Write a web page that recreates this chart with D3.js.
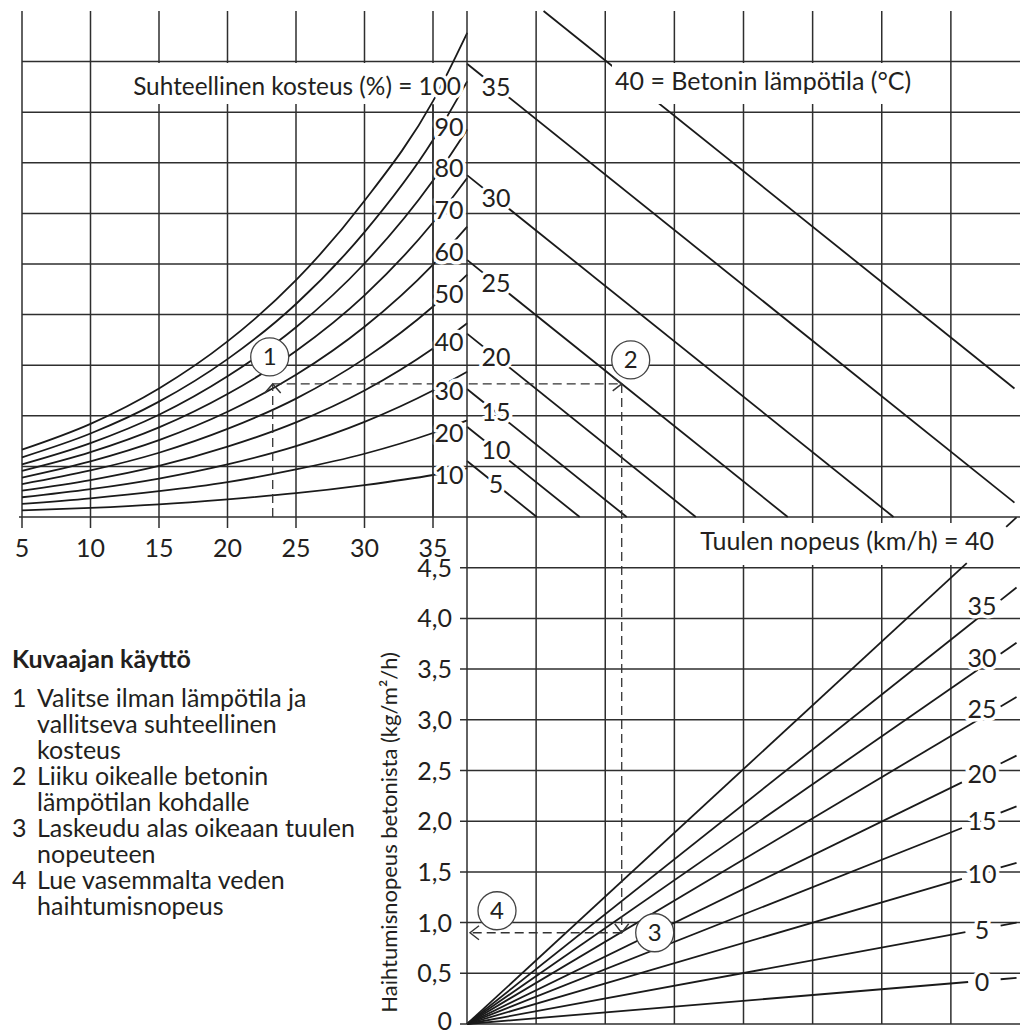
<!DOCTYPE html>
<html>
<head>
<meta charset="utf-8">
<script src="https://cdn.jsdelivr.net/npm/d3@7"></script>
<style>
  body { margin: 0; background: #fff; }
  svg { display: block; }
  text { font-family: Lato, "Open Sans", sans-serif; fill: #231f20; }
</style>
</head>
<body>
<div id="chart"></div>
<script>
// air temperature axis (°C)
const airTemps = [5, 10, 15, 20, 25, 30, 35];
// humidity curves, read at these air temperatures (grid units of the upper chart)
const curveTemps = [5, 10, 15, 20, 25, 30, 35, 37.5];
const humidities = [100, 90, 80, 70, 60, 50, 40, 30, 20, 10];
const rh100 = [1.33, 1.84, 2.54, 3.47, 4.68, 6.25, 8.22, 9.57];
const rh90 = [1.18, 1.65, 2.28, 3.12, 4.21, 5.63, 7.45, 8.61];
const rh80 = [1.04, 1.46, 2.02, 2.78, 3.75, 5.01, 6.65, 7.66];
const rh70 = [0.91, 1.28, 1.77, 2.43, 3.28, 4.38, 5.82, 6.70];
const rh60 = [0.78, 1.10, 1.52, 2.08, 2.81, 3.76, 4.99, 5.74];
const rh50 = [0.65, 0.92, 1.27, 1.74, 2.34, 3.13, 4.16, 4.79];
const rh40 = [0.52, 0.73, 1.01, 1.39, 1.87, 2.50, 3.33, 3.83];
const rh30 = [0.39, 0.55, 0.76, 1.04, 1.40, 1.88, 2.50, 2.87];
const rh20 = [0.26, 0.37, 0.51, 0.69, 0.94, 1.25, 1.66, 1.91];
const rh10 = [0.13, 0.18, 0.25, 0.35, 0.47, 0.63, 0.83, 0.96];
const humidityCurves = [rh100, rh90, rh80, rh70, rh60, rh50, rh40, rh30, rh20, rh10];

// concrete temperature lines: where each meets the bottom of the upper chart
const concreteTemps = [5, 10, 15, 20, 25, 30, 35, 40];
const concreteZero = [1.01, 1.63, 2.31, 3.31, 4.64, 6.17, 8.18, 10.24];
const concreteSlope = 1.095;

// wind speed lines (km/h): evaporation at x = 7 and where the line stops
const windSpeeds = [0, 5, 10, 15, 20, 25, 30, 35, 40];
const windRateAt7 = [0.40, 0.88, 1.40, 1.89, 2.33, 2.84, 3.31, 3.79, 4.40];
const windEnd = [7.25, 7.21, 7.16, 7.16, 7.16, 7.39, 7.39, 7.39, 7.23];

// evaporation axis (kg/m²/h)
const rateTicks = [0, 0.5, 1, 1.5, 2, 2.5, 3, 3.5, 4, 4.5];

// worked example drawn with dashed arrows
const exampleAir = 23.3;
const exampleVapor = 2.63;
const exampleConcrete = 25;
const exampleRate = 0.9;

const steps = [
    ['1', 'Valitse ilman lämpötila ja', 'vallitseva suhteellinen', 'kosteus'],
    ['2', 'Liiku oikealle betonin', 'lämpötilan kohdalle'],
    ['3', 'Laskeudu alas oikeaan tuulen', 'nopeuteen'],
    ['4', 'Lue vasemmalta veden', 'haihtumisnopeus']
];

const W = 1023, H = 1030;
const FS = 25;
const svg = d3.select('#chart').append('svg').attr('width', W).attr('height', H);

const xT = d3.scaleLinear().domain([5, 35]).range([22, 433]);
const xR = d3.scaleLinear().domain([0, 8]).range([467, 1020]);
const yTop = d3.scaleLinear().domain([0, 10]).range([517, 11]);
const yBot = d3.scaleLinear().domain([0, 5]).range([1024, 517]);

const gGrid = svg.append('g').attr('stroke', '#2e2e2e').attr('stroke-width', 1.5);
const gBehind = svg.append('g').attr('fill', 'none').attr('stroke', '#1a1a1a').attr('stroke-width', 1.8);
const gRects = svg.append('g');
const gLines = svg.append('g').attr('fill', 'none').attr('stroke', '#1a1a1a').attr('stroke-width', 1.8);
const gRoute = svg.append('g');
const gText = svg.append('g');
const gFront = svg.append('g').attr('stroke', '#2e2e2e').attr('stroke-width', 1.5);

function halo(t) {
    return t.attr('stroke', '#fff').attr('stroke-width', 7)
        .attr('stroke-linejoin', 'round').attr('paint-order', 'stroke');
}

// ---- grid
airTemps.forEach(t => {
    gGrid.append('line').attr('x1', xT(t)).attr('x2', xT(t))
        .attr('y1', yTop(10)).attr('y2', yTop(0) + 11);
});
d3.range(1, 8).forEach(u => {
    gGrid.append('line').attr('x1', xR(u)).attr('x2', xR(u))
        .attr('y1', yTop(10)).attr('y2', yBot(0));
});
// divider and the 35 °C line stay on top of the label halos
gFront.append('line').attr('x1', xR(0)).attr('x2', xR(0))
    .attr('y1', yTop(10)).attr('y2', yBot(0));
gFront.append('line').attr('x1', xT(35)).attr('x2', xT(35))
    .attr('y1', 105).attr('y2', yTop(0));
d3.range(1, 10).forEach(k => {
    gGrid.append('line').attr('x1', xT(5)).attr('x2', xR(8))
        .attr('y1', yTop(k)).attr('y2', yTop(k));
});
gGrid.append('line').attr('x1', xT(5) - 3).attr('x2', xR(8))
    .attr('y1', yTop(0)).attr('y2', yTop(0));
rateTicks.forEach(v => {
    gGrid.append('line').attr('x1', xR(0) - 7).attr('x2', xR(8))
        .attr('y1', yBot(v)).attr('y2', yBot(v));
});

// ---- axis labels
airTemps.forEach(t => {
    gText.append('text').attr('x', xT(t)).attr('y', 557)
        .attr('text-anchor', 'middle').attr('font-size', FS).text(t);
});
rateTicks.forEach(v => {
    gText.append('text').attr('x', 452).attr('y', Math.min(yBot(v) + 0.36 * FS, 1030))
        .attr('text-anchor', 'end').attr('font-size', FS)
        .text(v === 0 ? '0' : v.toFixed(1).replace('.', ','));
});
gText.append('text')
    .attr('transform', `translate(397, ${yBot(1.89)}) rotate(-90)`)
    .attr('text-anchor', 'middle').attr('font-size', 22)
    .text('Haihtumisnopeus betonista (kg/m²/h)');

// ---- concrete temperature lines
concreteTemps.forEach((tc, i) => {
    const x0 = concreteZero[i];
    const xa = Math.max(0, x0 - 10 / concreteSlope);
    const xb = Math.min(x0, 7.92);
    const g = tc === 40 ? gBehind : gLines;
    g.append('line')
        .attr('x1', xR(xa)).attr('y1', yTop((x0 - xa) * concreteSlope))
        .attr('x2', xR(xb)).attr('y2', yTop((x0 - xb) * concreteSlope));
    if (tc < 40) {
        const u = xR.invert(496);
        halo(gText.append('text')).attr('x', 496)
            .attr('y', yTop((x0 - u) * concreteSlope) + 0.36 * FS)
            .attr('text-anchor', 'middle').attr('font-size', FS).text(tc);
    }
});

// ---- humidity curves
const curve = d3.line().x(d => xT(d[0])).y(d => yTop(d[1])).curve(d3.curveMonotoneX);
humidityCurves.forEach((vals, i) => {
    gLines.append('path').attr('d', curve(curveTemps.map((t, j) => [t, vals[j]])));
    const rh = humidities[i];
    if (rh < 100) {
        const dy = rh >= 50 ? -13 : (rh === 40 ? -7 : 0);
        halo(gText.append('text')).attr('x', 449)
            .attr('y', yTop(vals[6]) + dy + 0.36 * FS)
            .attr('text-anchor', 'middle').attr('font-size', FS).text(rh);
    }
});

// ---- wind speed lines
windSpeeds.forEach((ws, i) => {
    const k = windRateAt7[i] / 7;
    gLines.append('line')
        .attr('x1', xR(0)).attr('y1', yBot(0))
        .attr('x2', xR(windEnd[i])).attr('y2', yBot(k * windEnd[i]));
    const d0 = ws === 40 ? 7.8 : 7.72;
    gLines.append('line')
        .attr('x1', xR(d0)).attr('y1', yBot(k * d0))
        .attr('x2', xR(7.95)).attr('y2', yBot(k * 7.95));
    if (ws < 40) {
        halo(gText.append('text')).attr('x', xR(7.45))
            .attr('y', yBot(k * 7.45) + (ws >= 25 ? -9 : 1) + 0.36 * FS)
            .attr('text-anchor', 'middle').attr('font-size', FS).text(ws);
    }
});

// ---- long labels on white boxes
function boxedLabel(x, y, anchor, str, y0, y1, size) {
    const t = halo(gText.append('text')).attr('x', x).attr('y', y)
        .attr('text-anchor', anchor).attr('font-size', size).text(str);
    const b = t.node().getBBox();
    gRects.append('rect').attr('x', b.x - 3).attr('width', b.width + 6)
        .attr('y', y0).attr('height', y1 - y0).attr('fill', '#fff');
}
boxedLabel(461, 95, 'end', 'Suhteellinen kosteus (%) = 100', 63, 104, 24.4);
boxedLabel(615, 90, 'start', '40 = Betonin lämpötila (°C)', 63, 104, FS);
boxedLabel(994, 550, 'end', 'Tuulen nopeus (km/h) = 40', 523, 565, FS);

// ---- worked example
const ex = concreteTemps.indexOf(exampleConcrete);
const exX = concreteZero[ex] - exampleVapor / concreteSlope;
const p1 = [xT(exampleAir), yTop(exampleVapor)];
const p2 = [xR(exX), yTop(exampleVapor)];
const p3 = [xR(exX), yBot(exampleRate)];
const p4 = [xR(0) + 3, yBot(exampleRate)];
const dash = gRoute.append('g').attr('stroke', '#333').attr('stroke-width', 1.3).attr('fill', 'none');
[[[p1[0], yTop(0)], p1], [p1, p2], [p2, p3], [p3, p4]].forEach(([a, b]) => {
    dash.append('line').attr('x1', a[0]).attr('y1', a[1]).attr('x2', b[0]).attr('y2', b[1])
        .attr('stroke-dasharray', '9,5');
});
const arrows = gRoute.append('g').attr('stroke', '#333').attr('stroke-width', 1.4).attr('fill', 'none');
const chevron = (p, dx1, dy1, dx2, dy2) => arrows.append('path')
    .attr('d', `M${p[0] + dx1},${p[1] + dy1}L${p[0]},${p[1]}L${p[0] + dx2},${p[1] + dy2}`);
chevron(p1, -8, 9, 8, 9);
chevron(p2, -9, -7, -9, 7);
chevron(p3, -7, -9, 7, -9);
chevron(p4, 9, -7, 9, 7);

const marks = [
    ['1', p1[0] - 3, p1[1] - 27],
    ['2', p2[0] + 9, p2[1] - 24],
    ['3', p3[0] + 33, p3[1]],
    ['4', p4[0] + 27, p4[1] - 22]
];
marks.forEach(([n, cx, cy]) => {
    gRoute.append('circle').attr('cx', cx).attr('cy', cy).attr('r', 19)
        .attr('fill', '#fff').attr('stroke', '#444').attr('stroke-width', 1.3);
    gRoute.append('text').attr('x', cx).attr('y', cy + 8.5)
        .attr('text-anchor', 'middle').attr('font-size', 24).text(n);
});

// ---- instructions
gText.append('text').attr('x', 12).attr('y', 668)
    .attr('font-size', FS).attr('font-weight', 'bold').text('Kuvaajan käyttö');
let row = 0;
steps.forEach(s => {
    gText.append('text').attr('x', 12).attr('y', 707 + row * 26).attr('font-size', FS).text(s[0]);
    s.slice(1).forEach(line => {
        gText.append('text').attr('x', 37).attr('y', 707 + row * 26).attr('font-size', FS).text(line);
        row++;
    });
});
</script>
</body>
</html>
